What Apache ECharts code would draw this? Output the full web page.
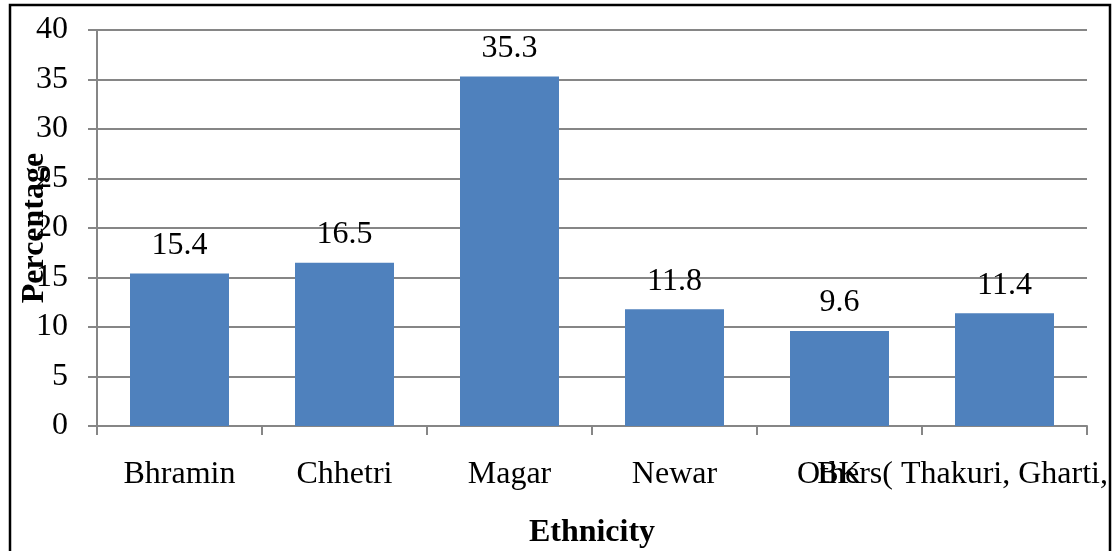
<!DOCTYPE html>
<html>
<head>
<meta charset="utf-8">
<script src="https://cdn.jsdelivr.net/npm/echarts@6/dist/echarts.min.js"></script>
<style>
  html, body { margin: 0; padding: 0; background: #fff; }
  #chart { width: 1113px; height: 551px; }
</style>
</head>
<body>
<div id="chart"></div>
<script>
// Ethnic composition of respondents (percent)
const categories = ['Bhramin', 'Chhetri', 'Magar', 'Newar', 'BK', 'Others( Thakuri, Gharti,'];
const percentages = [15.4, 16.5, 35.3, 11.8, 9.6, 11.4];
const yTicks = { min: 0, max: 40, interval: 5 };

const serif = "'Liberation Serif', 'Times New Roman', serif";
const gridGray = '#868686';
const fs = 32;

const chart = echarts.init(document.getElementById('chart'));
chart.setOption({
  animation: false,
  backgroundColor: '#ffffff',
  grid: { left: 97, right: 26, top: 30, bottom: 125, containLabel: false, outerBoundsMode: 'none' },
  xAxis: {
    type: 'category',
    data: categories,
    name: 'Ethnicity',
    nameLocation: 'middle',
    nameGap: 91,
    nameMoveOverlap: false,
    nameTextStyle: { fontFamily: serif, fontSize: fs, fontWeight: 'bold', color: '#000' },
    axisLine: { show: true, lineStyle: { color: gridGray, width: 2 } },
    axisTick: { show: true, length: 9, alignWithLabel: false, lineStyle: { color: gridGray, width: 2 } },
    axisLabel: {
      interval: 0,
      margin: 33,
      fontFamily: serif,
      fontSize: fs,
      color: '#000',
      formatter: function (v, i) {
        return i === categories.length - 1 ? '{last|' + v + '}' : v;
      },
      rich: {
        last: { fontFamily: serif, fontSize: fs, color: '#000', padding: [0, 104, 0, 0] }
      }
    }
  },
  yAxis: {
    type: 'value',
    min: yTicks.min,
    max: yTicks.max,
    interval: yTicks.interval,
    name: 'Percentage',
    nameLocation: 'middle',
    nameGap: 46,
    nameRotate: 90,
    nameMoveOverlap: false,
    nameTextStyle: { fontFamily: serif, fontSize: fs, fontWeight: 'bold', color: '#000' },
    axisLine: { show: true, lineStyle: { color: gridGray, width: 2 } },
    axisTick: { show: true, length: 9, lineStyle: { color: gridGray, width: 2 } },
    axisLabel: { margin: 29, fontFamily: serif, fontSize: fs, color: '#000' },
    splitLine: { show: true, lineStyle: { color: gridGray, width: 2 } }
  },
  series: [{
    type: 'bar',
    data: percentages,
    barWidth: '60%',
    itemStyle: { color: '#4F81BD' },
    label: {
      show: true,
      position: 'top',
      distance: 12,
      fontFamily: serif,
      fontSize: fs,
      color: '#000'
    }
  }],
  graphic: [{
    type: 'rect',
    shape: { x: 10, y: 5, width: 1100, height: 560 },
    style: { fill: 'none', stroke: '#000', lineWidth: 2.5 },
    silent: true,
    z: 100
  }]
});
</script>
</body>
</html>
